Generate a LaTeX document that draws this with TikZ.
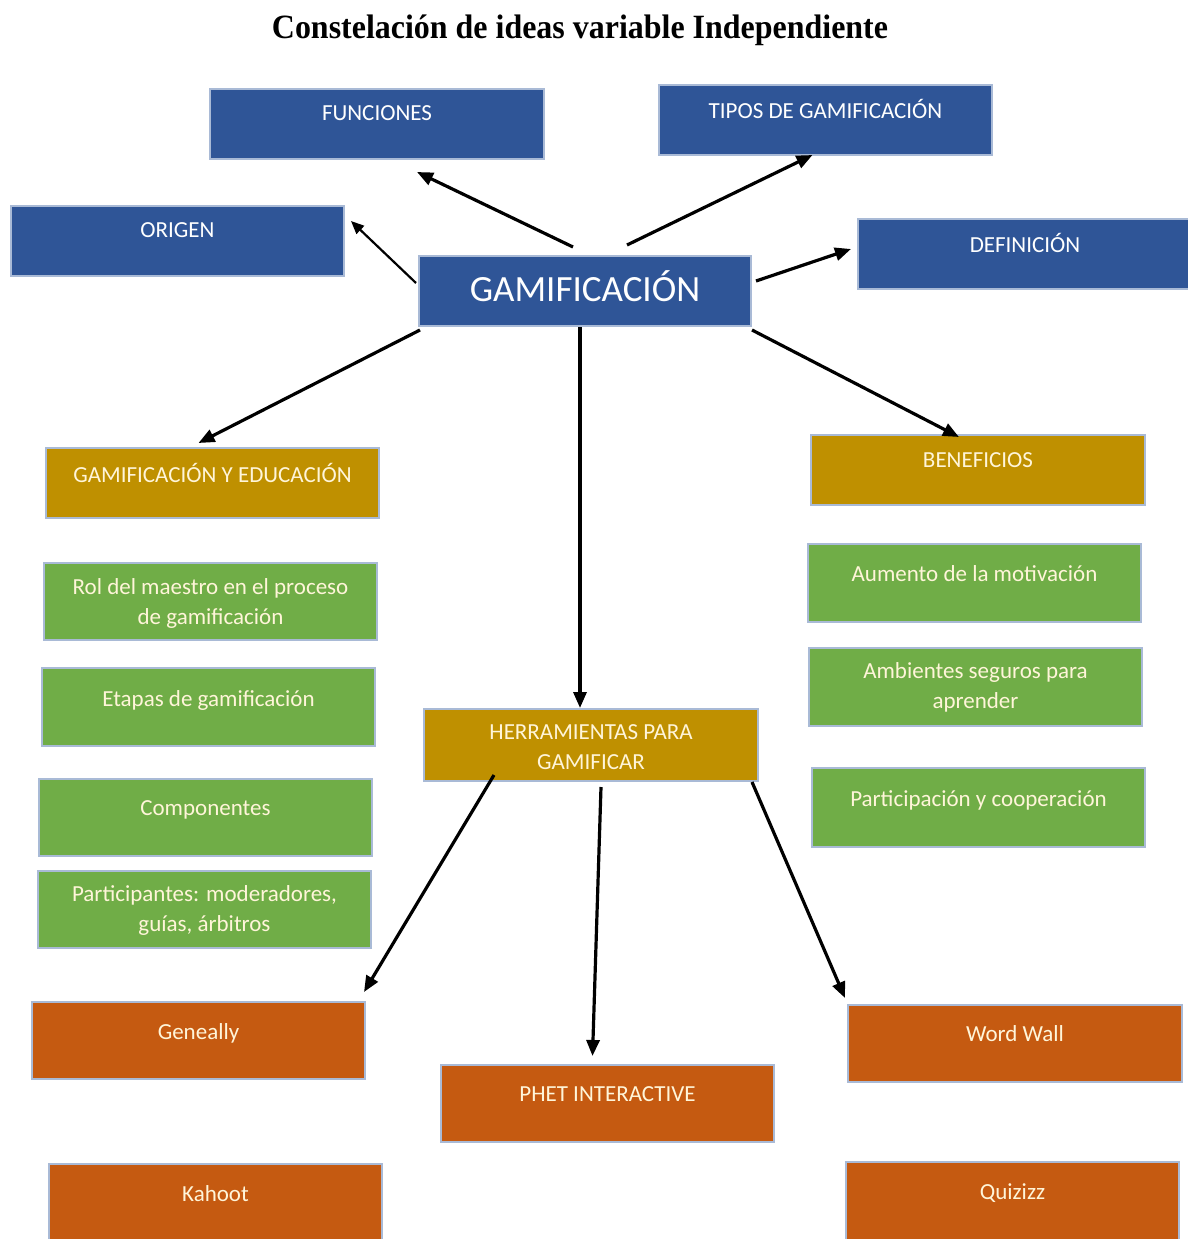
\documentclass[tikz,border=0pt]{standalone}
\usepackage{fontspec}
\setmainfont{Carlito}
\newfontfamily\titlefont[FakeStretch=0.94]{Liberation Serif}
\usetikzlibrary{arrows.meta,calc}
\definecolor{bxblue}{HTML}{2F5597}
\definecolor{bxgold}{HTML}{BF9000}
\definecolor{bxgreen}{HTML}{70AD47}
\definecolor{bxorange}{HTML}{C55A11}
\definecolor{bxedge}{HTML}{A9BAD6}
\definecolor{cream}{HTML}{FFF5D9}
\begin{document}
\begin{tikzpicture}[x=1pt,y=-1pt,
  box/.style={draw=bxedge, line width=2pt, anchor=north west, inner sep=0pt, minimum width=#1},
  lbl/.style={text=cream, font=\fontsize{23}{30}\selectfont, align=center, inner sep=0pt},
  wlbl/.style={lbl, text=white},
  arr/.style={-{Triangle[length=16pt,width=13pt]}, line width=3.2pt},
  thinarr/.style={-{Triangle[length=13pt,width=11pt]}, line width=2.2pt}]
\useasboundingbox (0,0) rectangle (1188,1239);
\fill[white] (0,0) rectangle (1188,1239);

\node[font=\titlefont\bfseries\fontsize{34}{38}\selectfont] (title) at (580,30) {Constelación de ideas variable Independiente};

% blue boxes
\node[box=334pt, fill=bxblue, minimum height=70pt] (fun) at (209,88) {};
\node[wlbl] (funT) at ([yshift=-25pt]fun.north) {FUNCIONES};
\node[box=333pt, fill=bxblue, minimum height=70pt] (tip) at (658,84) {};
\node[wlbl] (tipT) at ([yshift=-25pt]tip.north) {TIPOS DE GAMIFICACIÓN};
\node[box=333pt, fill=bxblue, minimum height=70pt] (ori) at (10,205) {};
\node[wlbl] (oriT) at ([yshift=-25pt]ori.north) {ORIGEN};
\node[box=335pt, fill=bxblue, minimum height=70pt] (def) at (857,218) {};
\node[wlbl] (defT) at ([xshift=168pt,yshift=-25pt]def.north west) {DEFINICIÓN};
\node[box=332pt, fill=bxblue, minimum height=70pt] (gam) at (418,255) {};
\node[wlbl, font=\fontsize{37}{40}\selectfont] (gamT) at ([yshift=-31pt]gam.north) {GAMIFICACIÓN};

% gold boxes
\node[box=333pt, fill=bxgold, minimum height=70pt] (edu) at (45,447) {};
\node[lbl] (eduT) at ([yshift=-26pt]edu.north) {GAMIFICACIÓN Y EDUCACIÓN};
\node[box=334pt, fill=bxgold, minimum height=70pt] (ben) at (810,434) {};
\node[lbl] (benT) at ([yshift=-26pt]ben.north) {BENEFICIOS};
\node[box=334pt, fill=bxgold, minimum height=72pt] (her) at (423,708) {};
\node[lbl] (herT) at ([yshift=-39pt]her.north) {HERRAMIENTAS PARA\\GAMIFICAR};

% green boxes left
\node[box=333pt, fill=bxgreen, minimum height=77pt] (rol) at (43,562) {};
\node[lbl] (rolT) at ([yshift=-41pt]rol.north) {Rol del maestro en el proceso\\de gamificación};
\node[box=333pt, fill=bxgreen, minimum height=78pt] (eta) at (41,667) {};
\node[lbl] (etaT) at ([yshift=-33pt]eta.north) {Etapas de gamificación};
\node[box=333pt, fill=bxgreen, minimum height=77pt] (com) at (38,778) {};
\node[lbl] (comT) at ([yshift=-32pt]com.north) {Componentes};
\node[box=333pt, fill=bxgreen, minimum height=77pt] (par) at (37,870) {};
\node[lbl] (parT) at ([yshift=-40pt]par.north) {Participantes: moderadores,\\guías, árbitros};

% green boxes right
\node[box=333pt, fill=bxgreen, minimum height=78pt] (aum) at (807,543) {};
\node[lbl] (aumT) at ([yshift=-31pt]aum.north) {Aumento de la motivación};
\node[box=333pt, fill=bxgreen, minimum height=78pt] (amb) at (808,647) {};
\node[lbl] (ambT) at ([yshift=-40pt]amb.north) {Ambientes seguros para\\aprender};
\node[box=333pt, fill=bxgreen, minimum height=79pt] (pco) at (811,767) {};
\node[lbl] (pcoT) at ([yshift=-33pt]pco.north) {Participación y cooperación};

% orange boxes
\node[box=333pt, fill=bxorange, minimum height=77pt] (gen) at (31,1001) {};
\node[lbl] (genT) at ([yshift=-32pt]gen.north) {Geneally};
\node[box=333pt, fill=bxorange, minimum height=77pt] (phe) at (440,1064) {};
\node[lbl] (pheT) at ([yshift=-30pt]phe.north) {PHET INTERACTIVE};
\node[box=334pt, fill=bxorange, minimum height=77pt] (wor) at (847,1004) {};
\node[lbl] (worT) at ([yshift=-30pt]wor.north) {Word Wall};
\node[box=333pt, fill=bxorange, minimum height=95pt] (kah) at (48,1163) {};
\node[lbl] (kahT) at ([yshift=-31pt]kah.north) {Kahoot};
\node[box=333pt, fill=bxorange, minimum height=95pt] (qui) at (845,1161) {};
\node[lbl] (quiT) at ([yshift=-32pt]qui.north) {Quizizz};

% connectors
\draw[arr] ([xshift=-12pt,yshift=8pt]gam.north) -- ([xshift=40pt,yshift=-12pt]fun.south);
\draw[arr] ([xshift=42pt,yshift=10pt]gam.north) -- ([xshift=-13pt,yshift=1pt]tip.south);
\draw[thinarr] ([xshift=-2pt,yshift=8pt]gam.west) -- ([xshift=6pt,yshift=20pt]ori.east);
\draw[arr] ([xshift=4pt,yshift=10pt]gam.east) -- ([xshift=-6pt,yshift=5pt]def.west);
\draw[arr] ([xshift=2pt,yshift=-3pt]gam.south west) -- ([xshift=-14pt,yshift=4pt]edu.north);
\draw[arr] ([yshift=-3pt]gam.south east) -- ([xshift=-19pt,yshift=-3pt]ben.north);
\draw[arr] ([xshift=-5pt]gam.south) -- ([xshift=-11pt]her.north);
\draw[arr] ([xshift=71pt,yshift=7pt]her.south west) -- ([xshift=-2pt,yshift=9pt]gen.north east);
\draw[arr] ([xshift=10pt,yshift=-5pt]her.south) -- ([xshift=-15pt,yshift=8pt]phe.north);
\draw[arr] ([xshift=-7pt]her.south east) -- ([xshift=-2pt,yshift=6pt]wor.north west);
\end{tikzpicture}
\end{document}
